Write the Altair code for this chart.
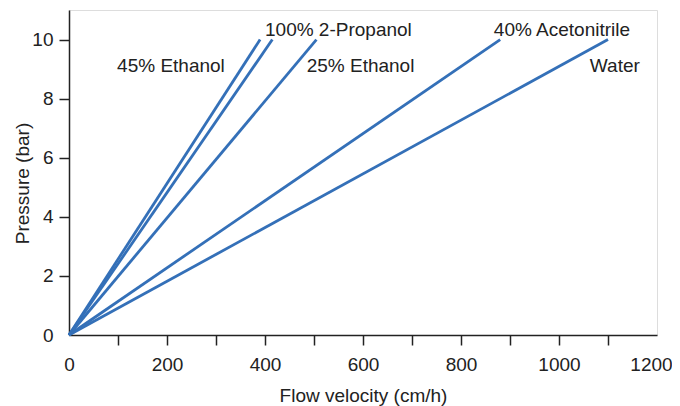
import altair as alt
import pandas as pd

# Series: each line runs from the origin to (end_velocity, end_pressure)
series = ["45% Ethanol", "100% 2-Propanol", "25% Ethanol", "40% Acetonitrile", "Water"]
end_velocity = [390, 415, 505, 880, 1100]
end_pressure = [10, 10, 10, 10, 10]

# Annotation labels (data coordinates)
label_text = ["100% 2-Propanol", "25% Ethanol", "40% Acetonitrile", "Water", "45% Ethanol"]
label_x = [400, 485, 867, 1063, 318]
label_y = [10.34, 9.10, 10.34, 9.10, 9.10]
label_align = ["left", "left", "left", "left", "right"]

x_ticks = list(range(0, 1201, 100))
y_ticks = list(range(0, 11))

rows = []
for s, xv, yv in zip(series, end_velocity, end_pressure):
    rows.append({"series": s, "x": 0, "y": 0})
    rows.append({"series": s, "x": xv, "y": yv})
df = pd.DataFrame(rows)

lab = pd.DataFrame({"text": label_text, "x": label_x, "y": label_y, "align": label_align})

FONT = "Liberation Sans"
INK = "#222222"
BLUE = "#3470b8"

xscale = alt.Scale(domain=[0, 1200], nice=False, zero=True)
yscale = alt.Scale(domain=[0, 11], nice=False, zero=True)

xaxis = alt.Axis(
    values=x_ticks,
    format="d",
    labelExpr="datum.value % 200 == 0 ? datum.label : ''",
    grid=False,
    tickSize=10,
    tickWidth=1.5,
    tickColor=INK,
    tickOpacity={"condition": {"test": "datum.value == 0 || datum.value == 1200", "value": 0}, "value": 1},
    domainColor=INK,
    domainWidth=1.5,
    labelFont=FONT,
    labelFontSize=19,
    labelColor=INK,
    labelPadding=10,
    labelOffset={"condition": {"test": "datum.value == 1200", "value": -6}, "value": 0},
    labelFlush=False,
    labelOverlap=False,
    labelBound=False,
    title="Flow velocity (cm/h)",
    titleFont=FONT,
    titleFontSize=19,
    titleFontWeight="normal",
    titleColor=INK,
    titlePadding=12,
)
yaxis = alt.Axis(
    values=y_ticks,
    format="d",
    labelExpr="datum.value % 2 == 0 ? datum.label : ''",
    grid=False,
    tickSize=10,
    tickWidth=1.5,
    tickColor=INK,
    tickOpacity={"condition": {"test": "datum.value == 0", "value": 0}, "value": 1},
    domainColor=INK,
    domainWidth=1.5,
    labelFont=FONT,
    labelFontSize=19,
    labelColor=INK,
    labelPadding=6,
    labelFlush=False,
    labelOverlap=False,
    title="Pressure (bar)",
    titleFont=FONT,
    titleFontSize=19,
    titleFontWeight="normal",
    titleColor=INK,
    titleX=-47,
    titleY=173,
    titleAngle=270,
    titleAlign="center",
    titleBaseline="middle",
)

lines = alt.Chart(df).mark_line(color=BLUE, strokeWidth=2.8).encode(
    x=alt.X("x:Q", scale=xscale, axis=xaxis),
    y=alt.Y("y:Q", scale=yscale, axis=yaxis),
    detail="series:N",
)

left_labels = alt.Chart(lab[lab["align"] == "left"]).mark_text(
    align="left", baseline="middle", font=FONT, fontSize=19, color=INK
).encode(x=alt.X("x:Q", scale=xscale), y=alt.Y("y:Q", scale=yscale), text="text:N")

right_labels = alt.Chart(lab[lab["align"] == "right"]).mark_text(
    align="right", baseline="middle", font=FONT, fontSize=19, color=INK
).encode(x=alt.X("x:Q", scale=xscale), y=alt.Y("y:Q", scale=yscale), text="text:N")

chart = (lines + left_labels + right_labels).properties(
    width=588,
    height=325,
    autosize=alt.AutoSizeParams(type="none"),
    padding={"left": 61, "top": 2, "right": 15, "bottom": 71},
).configure_view(stroke=None).configure(background="white")

chart.save("out.html", embed_options={"renderer": "svg", "actions": False})
